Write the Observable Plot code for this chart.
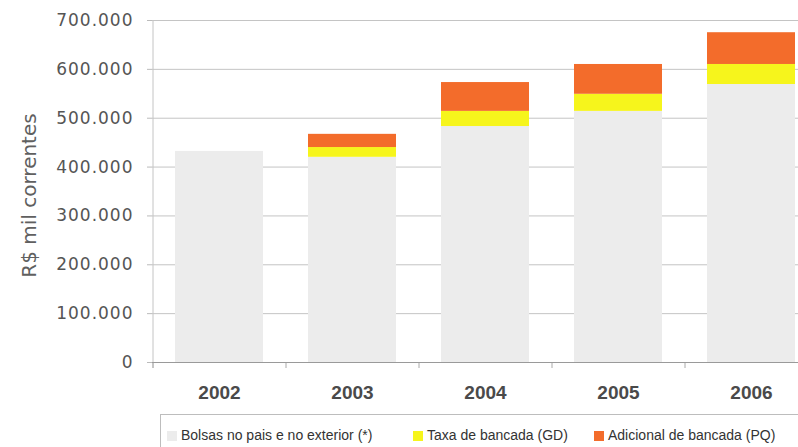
<!DOCTYPE html>
<html>
<head>
<meta charset="utf-8">
<script src="https://cdn.jsdelivr.net/npm/d3@7"></script>
<script src="https://cdn.jsdelivr.net/npm/@observablehq/plot@0.6"></script>
<style>
  html, body { margin: 0; padding: 0; background: #fff; overflow: hidden; }
  #wrap { position: relative; width: 798px; height: 447px; overflow: hidden; }
  g[aria-label="y-axis tick label"] text { letter-spacing: 1px; }
  #legend { position: absolute; left: 160px; top: 414px; width: 660px; height: 40px;
    border: 1px solid #bdbdbd; box-sizing: border-box; font-family: "Liberation Sans", Arial, sans-serif;
    font-size: 14px; color: #333; }
  .item { position: absolute; top: 12px; white-space: nowrap; }
  .sw { display: inline-block; width: 10px; height: 10px; margin-right: 4px; vertical-align: -1px; }
</style>
</head>
<body>
<div id="wrap"></div>
<script>
const years = ["2002", "2003", "2004", "2005", "2006"];
const bolsas = [432000, 420000, 483000, 514000, 569000];
const taxa = [0, 20000, 31000, 35000, 41000];
const adicional = [0, 27000, 59000, 61000, 65000];
const seriesNames = ["Bolsas no pais e no exterior (*)", "Taxa de bancada (GD)", "Adicional de bancada (PQ)"];
const seriesColors = ["#ececec", "#f6f51c", "#f36c2b"];
const yTicks = [0, 100000, 200000, 300000, 400000, 500000, 600000, 700000];
const yTitle = "R$ mil correntes";

const seriesValues = [bolsas, taxa, adicional];
const data = [];
years.forEach((yr, i) => {
  seriesNames.forEach((s, k) => data.push({year: yr, series: s, value: seriesValues[k][i]}));
});

const fmt = d => d3.format(",")(d).replace(/,/g, ".");
const half = (817 - 152) / years.length / 2;

const chart = Plot.plot({
  width: 798,
  height: 410,
  marginLeft: 152,
  marginRight: -19,
  marginTop: 20,
  marginBottom: 48,
  style: {fontFamily: "DejaVu Sans, sans-serif", background: "#fff"},
  x: {domain: years, paddingInner: 0.34, paddingOuter: 0.17},
  y: {domain: [0, 700000]},
  color: {domain: seriesNames, range: seriesColors},
  marks: [
    Plot.ruleY(yTicks, {stroke: "#c4c4c4", strokeWidth: 1}),
    Plot.barY(data, {x: "year", y: "value", fill: "series"}),
    Plot.ruleX([years[0]], {x: d => d, dx: -half, stroke: "#c4c4c4", insetBottom: -6}),
    Plot.ruleX(years, {x: d => d, dx: -half, y1: 0, y2: 0, insetBottom: -6, stroke: "#aaa"}),
    Plot.ruleY([0], {stroke: "#9a9a9a"}),
    Plot.axisY({ticks: yTicks, tickFormat: fmt, tickSize: 5, tickPadding: 14, fontSize: 17,
      color: "#555", stroke: "#bbb", label: null}),
    Plot.text([yTitle], {text: d => d, frameAnchor: "left", textAnchor: "middle", rotate: -90,
      dx: -123, dy: 4, fontSize: 20, fill: "#606060"}),
    Plot.axisX({tickSize: 0, tickPadding: 23, fontSize: 19, fontWeight: "bold",
      fontFamily: "Liberation Sans, Arial, sans-serif", color: "#4a4a4a", label: null})
  ]
});
const wrap = document.getElementById("wrap");
wrap.appendChild(chart);

const legend = document.createElement("div");
legend.id = "legend";
const lefts = [6, 252, 433];
seriesNames.forEach((s, k) => {
  const it = document.createElement("span");
  it.className = "item";
  it.style.left = lefts[k] + "px";
  it.innerHTML = `<span class="sw" style="background:${seriesColors[k]}"></span>${s}`;
  legend.appendChild(it);
});
wrap.appendChild(legend);
</script>
</body>
</html>
